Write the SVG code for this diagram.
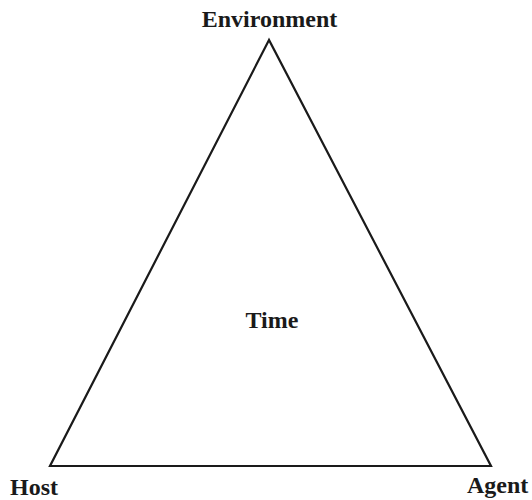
<svg xmlns="http://www.w3.org/2000/svg" width="532" height="500" viewBox="0 0 532 500">
<style>
.lbl{font-family:"Liberation Serif","Times New Roman",serif;font-weight:bold;font-size:24px;fill:#1a1a1a}
.edge{stroke:#1a1a1a;stroke-width:2.2;fill:none;stroke-linejoin:miter}
</style>
<rect width="532" height="500" fill="#fff"/>
<g id="connectors">
<polygon class="edge" points="269,40 50,466 491,466"/>
</g>
<g id="environment"><text class="lbl" x="269.5" y="27" text-anchor="middle">Environment</text></g>
<g id="host"><text class="lbl" x="10" y="495">Host</text></g>
<g id="agent"><text class="lbl" x="467" y="493">Agent</text></g>
<g id="time"><text class="lbl" x="272" y="328" text-anchor="middle">Time</text></g>
</svg>
